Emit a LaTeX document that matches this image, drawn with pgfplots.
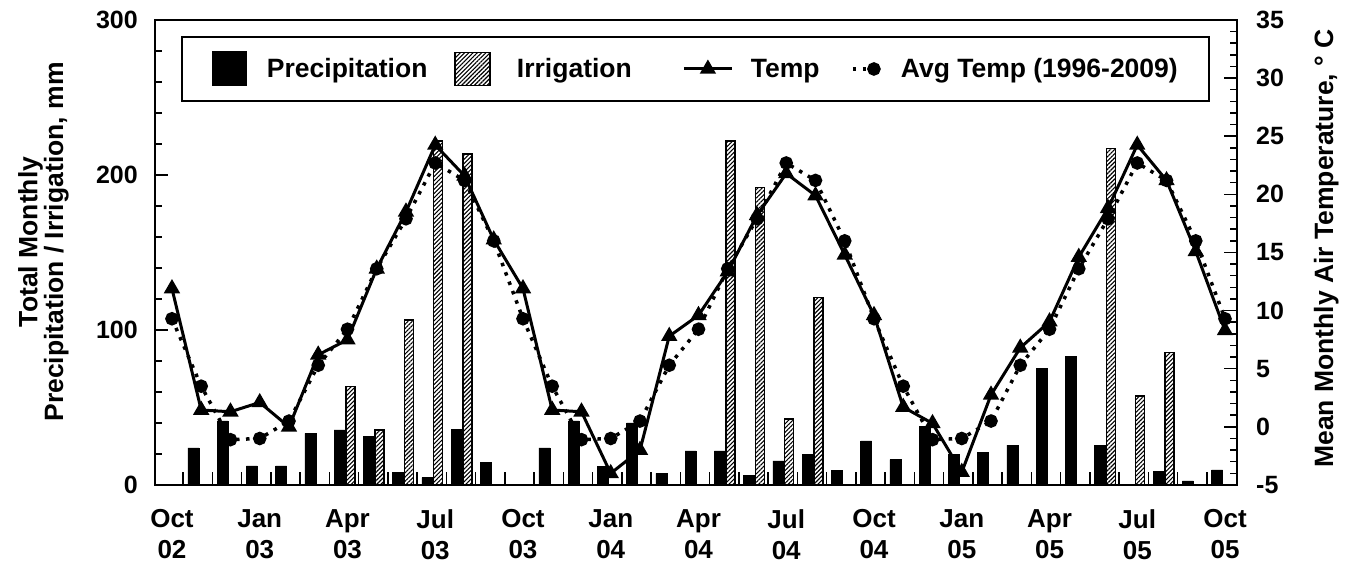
\documentclass[border=0pt]{standalone}
\usepackage{fontspec}
\setmainfont{Liberation Sans}
\usepackage{pgfplots}
\pgfplotsset{compat=1.18}
\usepackage{pgfplotstable}
\usetikzlibrary{patterns.meta}

\pgfplotsset{
  tempimg/.style={legend image code/.code={\path[draw=none,fill=none] (0pt,-32pt) (119.1pt,32pt); \draw[##1, mark repeat=2, mark phase=2] plot coordinates {(52.1pt,0pt) (76.1pt,0pt) (100.1pt,0pt)};}},
  avgimg/.style={legend image code/.code={\path[draw=none,fill=none] (0pt,-32pt) (81.3pt,32pt); \draw[##1, mark repeat=2, mark phase=2] plot coordinates {(33.3pt,0pt) (54.3pt,0pt) (62.3pt,0pt)};}},
  precimg/.style={legend image code/.code={\path[draw=none,fill=none] (0pt,-32pt) (85pt,32pt); \fill[black] (31pt,-16.5pt) rectangle (64pt,16.5pt);}},
  irrimg/.style={legend image code/.code={\path[draw=none,fill=none] (0pt,-32pt) (89.5pt,32pt); \draw[black, solid, line width=1.2pt, fill=white, postaction={pattern={Lines[angle=45,distance=3pt,line width=1.1pt]}}] (27.5pt,-16.5pt) rectangle (62.5pt,16.5pt);}},
}

\pgfplotstableread{
m p
1 24.0
2 41.3
3 12.3
4 12.3
5 33.3
6 35.5
7 31.6
8 8.0
9 4.7
10 36.0
11 14.4
13 24.0
14 41.4
15 11.8
16 40.0
17 7.5
18 22.0
19 22.0
20 6.4
21 15.6
22 19.7
23 9.6
24 28.5
25 16.4
26 37.6
27 19.8
28 20.9
29 25.8
30 75.3
31 82.8
32 25.8
34 8.6
35 2.6
36 9.7
}\precip

\pgfplotstableread{
m v
6 63.4
7 35.5
8 106.5
9 222.0
10 213.5
19 222.0
20 192.0
21 42.6
22 121.0
32 217.0
33 57.4
34 85.4
}\irrig

\pgfplotstableread{
m t a
0 11.9 9.3
1 1.45 3.5
2 1.3 -1.1
3 2.1 -1.0
4 0.0 0.5
5 6.2 5.3
6 7.5 8.4
7 13.6 13.6
8 18.5 17.9
9 24.25 22.7
10 21.6 21.2
11 16.1 16.0
12 11.9 9.3
13 1.45 3.5
14 1.3 -1.1
15 -4.0 -1.0
16 -2.0 0.5
17 7.8 5.3
18 9.6 8.4
19 13.35 13.6
20 18.2 17.9
21 21.8 22.7
22 19.9 21.2
23 14.8 16.0
24 9.6 9.3
25 1.7 3.5
26 0.3 -1.1
27 -3.9 -1.0
28 2.75 0.5
29 6.8 5.3
30 9.05 8.4
31 14.6 13.6
32 18.8 17.9
33 24.25 22.7
34 21.2 21.2
35 15.1 16.0
36 8.3 9.3
}\temp

\begin{document}
\begin{tikzpicture}
\pgfplotsset{
  common/.style={
    at={(155pt,79pt)}, anchor=south west,
    scale only axis, width=1082pt, height=465pt,
    xmin=-0.58, xmax=36.41,
    tick align=inside,
    major tick length=13pt, minor tick length=7pt,
    axis line style={line width=2.5pt},
    tick style={line width=1.5pt, black},
    /pgf/number format/assume math mode=true,
    ticklabel style={font=\bfseries\fontsize{25}{31}\selectfont, inner sep=0pt},
  }
}
\begin{axis}[common,
  ymin=0, ymax=300, ytick={0,100,200,300}, minor y tick num=4,
  ytick pos=left,
  xtick={0.38,1.38,...,35.38}, xticklabels={}, xtick pos=bottom,
  extra x ticks={0,3,...,36},
  extra x tick labels={{Oct\\02},{Jan\\03},{Apr\\03},{Jul\\03},{Oct\\03},{Jan\\04},{Apr\\04},{Jul\\04},{Oct\\04},{Jan\\05},{Apr\\05},{Jul\\05},{Oct\\05}},
  extra x tick style={major tick length=0pt},
  xticklabel style={align=center, yshift=-24pt, font=\bfseries\fontsize{26}{31}\selectfont},
  yticklabel style={xshift=-17pt},
  ylabel={Total Monthly\\Precipitation / Irrigation, mm},
  every axis y label/.style={at={(axis description cs:-0.1030,0.5226)}, rotate=90, anchor=center, align=center, font=\bfseries\fontsize{26.5}{21.5}\selectfont},
]
\addplot[ybar, bar width=0.38, bar shift=0pt, fill=black, draw=black, line width=0.5pt]
  table[x expr=\thisrow{m}-0.27, y=p]{\precip};
\addplot[ybar, bar width=0.31, bar shift=0pt, draw=black, line width=1.5pt, fill=white,
  postaction={pattern={Lines[angle=45,distance=3pt,line width=1.1pt]}}]
  table[x expr=\thisrow{m}+0.10, y=v]{\irrig};
\end{axis}

\begin{axis}[common,
  ymin=-5, ymax=35, ytick={-5,0,...,35}, minor y tick num=4,
  ytick pos=right,
  xtick=\empty,
  yticklabel style={xshift=19pt},
  ylabel={Mean Monthly Air Temperature, ° C},
  every axis y label/.style={at={(axis description cs:1.0825,0.5086)}, rotate=90, anchor=center, font=\bfseries\fontsize{26.5}{30}\selectfont},
  legend style={at={(axis description cs:0.024,0.9656)}, anchor=north west, draw=black, line width=2pt, inner sep=0pt, fill=white,
    font=\bfseries\fontsize{26.5}{31}\selectfont, column sep=0pt, row sep=0pt, nodes={inner sep=0pt}},
  legend columns=4, legend cell align=left,
]
\addlegendimage{precimg}
\addlegendimage{irrimg}
\addplot[black, line width=3pt, mark=triangle*, mark size=6.5pt, mark options={solid}, tempimg]
  table[x=m, y=t]{\temp};
\addplot[black, line width=3.5pt, dash pattern=on 3.5pt off 6.5pt, mark=*, mark size=5pt, mark options={solid}, avgimg]
  table[x=m, y=a]{\temp};
\legend{Precipitation, Irrigation, Temp, Avg Temp (1996-2009)\hspace*{31pt}}
\end{axis}
\pgfresetboundingbox
\path[use as bounding box] (0pt,0pt) rectangle (1351pt,564pt);
\end{tikzpicture}
\end{document}
